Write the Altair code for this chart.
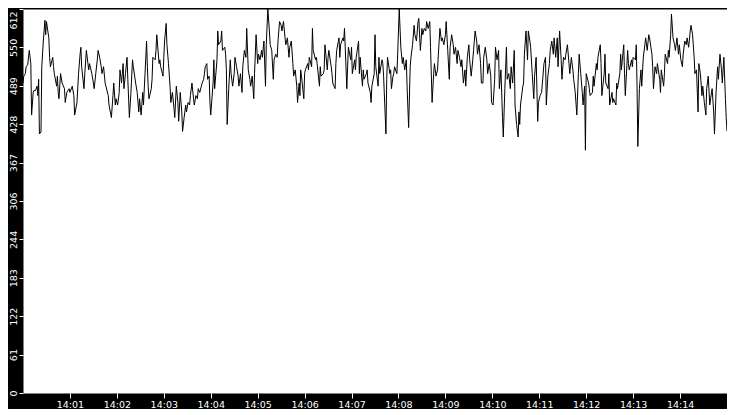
import altair as alt
import pandas as pd

# elapsed seconds since 14:00:00
t_sec = [
    0, 1, 3, 4, 6, 8, 10, 11, 13, 14, 16, 18, 19, 20, 21, 23, 24, 26, 28, 29, 30, 33, 34, 35, 38, 39, 40, 43, 44, 45,
    46, 48, 50, 53, 54, 56, 59, 60, 63, 65, 66, 69, 71, 73, 74, 75, 78, 79, 81, 83, 84, 85, 88, 90, 91, 93, 95, 96, 98, 100,
    101, 103, 105, 106, 109, 110, 113,
    115, 116, 118, 119, 121, 123, 124, 126, 128, 129, 131, 133, 134, 136, 138, 140, 141, 144, 146, 148, 149, 151, 153, 154,
    156, 158, 159, 160, 161, 164, 165, 166, 169, 170, 171, 174, 175, 176, 179, 180, 181, 183, 184, 186, 188, 189, 191, 193,
    194, 196, 198, 199, 201, 203, 204, 206, 208, 209, 211, 213, 214, 216, 218, 219, 221, 223, 224, 226, 228, 229, 231,
    233, 235, 236, 238, 239, 240, 243, 244, 245, 248, 249, 250, 253, 254, 255, 258, 259, 260, 261, 263, 265, 266, 268, 270,
    271, 273, 275, 276, 278, 280, 281, 283, 285, 286, 288, 290, 291, 293, 295, 296, 298, 300, 301, 303, 305, 306, 308, 310,
    311, 313, 315, 316, 318, 320, 321, 323, 325, 326, 328, 330, 331, 333, 335, 336, 338, 340, 341, 343, 345, 346, 348, 350,
    351, 353, 354, 355, 356, 359, 360, 361, 364, 365, 366, 369, 370, 371, 374, 375, 376, 379, 380, 381, 384, 385, 386, 389,
    390, 391, 394, 395, 396, 399, 400, 401, 404, 405, 406, 409, 410, 411, 414, 415, 416, 419, 420, 421, 424, 425, 426, 429,
    430, 431, 434, 435, 436, 439, 440, 441, 444, 445, 446, 449, 450, 451, 454, 455, 456, 459, 460, 461, 464, 465, 466, 469,
    470, 471, 473, 474, 475, 478, 479, 480, 481, 483, 485, 486, 488, 490, 491, 493, 495, 496, 498, 500, 501, 503, 505, 506,
    508, 510, 511, 513, 515, 516, 518, 520, 521, 523, 525, 526, 528, 530, 531, 533, 535, 536, 538, 540, 541, 543, 545, 546,
    548, 550, 551, 553, 555, 556, 558, 560, 561, 563, 565, 566, 568, 570, 571, 573, 575, 576, 578, 580, 581, 583, 585, 586,
    588, 589, 591, 593, 594, 596, 598, 599, 601, 603, 604, 606, 608, 609, 611, 613, 614, 616, 618, 619, 621, 623, 624, 626,
    628, 629, 631, 633, 634, 635, 636, 639, 640, 641, 643, 645, 646, 648, 649, 651, 653, 654, 656, 658, 659, 661, 663, 664,
    666, 668, 669, 671, 673, 674, 676, 678, 679, 681, 683, 684, 686, 688, 689, 691, 693, 694, 696, 698, 699, 701, 703, 704,
    706, 708, 710, 711, 713, 715, 716, 718, 719, 720, 723, 724, 725, 728, 729, 730, 733, 734, 735, 738, 739, 740, 743, 744,
    745, 748, 749, 750, 753, 754, 755, 758, 759, 760, 763, 764, 765, 768, 769, 770, 773, 774, 775, 778, 779, 780, 783, 784,
    785, 786, 788, 790, 791, 793, 795, 796, 798, 800,
    801, 804, 805, 806, 808, 810, 811, 814, 815, 816, 819, 820, 821, 824, 825, 826, 828, 829, 831, 833, 834, 836, 838, 839,
    841, 843, 844, 846, 848, 849, 851, 853, 854, 856, 858, 859, 861, 863, 864, 866, 868, 869, 871, 873, 874, 876, 878, 879,
    881, 883, 884, 886, 888, 889, 891, 893, 894, 896, 898, 899, 900,
]

values = [
    494, 505, 509, 520, 523, 546, 525, 443, 479, 482, 482, 489, 474, 500, 413, 416, 520, 561, 594, 571, 592, 566, 535, 520, 535, 520, 509, 489, 505, 479,
    469, 509, 494, 485, 463, 479, 485, 479, 489, 474, 443, 463, 509, 540, 551, 520, 485, 509, 546, 525, 515, 525, 509, 494, 485, 509, 531, 546, 535, 520,
    509, 520, 494, 489, 474, 459, 439,
    474, 494, 459, 469, 459, 479, 515, 494, 525, 485, 509, 535, 500, 439, 479, 531, 520, 494, 479, 448, 469, 443, 479, 459,
    509, 561, 520, 489, 469, 485, 500, 535, 531, 546, 571, 525, 531, 520, 505, 535, 561, 589, 555, 525, 489, 463, 479, 454,
    439, 489, 463, 433, 479, 448, 417, 439, 459, 448, 463, 459, 474, 494, 469, 459, 474, 469, 485, 479, 489, 494, 500,
    520, 525, 500, 505, 463, 443, 494, 531, 485, 531, 577, 555, 561, 577, 546, 551, 540, 515, 428, 485, 531, 509, 489, 509,
    535, 520, 505, 489, 509, 479, 520, 546, 535, 581, 515, 500, 489, 505, 469, 509, 571, 525, 540, 531, 546, 535, 561, 489,
    555, 612, 577, 555, 546, 500, 531, 540, 535, 561, 592, 586, 577, 592, 566, 555, 566, 535, 551, 561, 525, 505, 515, 489,
    463, 494, 474, 515, 505, 469, 509, 515, 525, 515, 535, 520, 581, 546, 531, 535, 525, 489, 520, 505, 509, 515, 555, 515,
    535, 546, 520, 509, 494, 485, 525, 546, 566, 535, 555, 566, 561, 581, 485, 520, 551, 531, 551, 509, 531, 515, 535, 561,
    509, 535, 489, 515, 500, 509, 515, 494, 479, 463, 489, 509, 571, 520, 489, 535, 509, 531, 525, 505, 413, 500, 535, 509,
    515, 485, 505, 509, 520, 509, 540, 577, 612, 551, 525, 535, 515, 531, 489, 423, 520, 535, 555, 586, 571, 561, 592, 597,
    546, 581, 571, 581, 577, 592, 581, 592, 551, 463, 509, 525, 505, 515, 540, 581, 561, 566, 555, 571, 592, 546, 500, 551,
    571, 555, 540, 551, 525, 546, 535, 520, 531, 494, 515, 489, 535, 555, 531, 505, 531, 546, 577, 561, 540, 555, 525, 494,
    494, 535, 551, 531, 509, 525, 505, 463, 459, 500, 551, 531, 546, 485, 515, 439, 408, 485, 551, 500, 509, 485, 520, 494,
    546, 459, 428, 408, 448, 428, 459, 489, 494, 540, 577, 531, 577, 561, 551, 509, 469, 505, 535, 433, 463, 474, 479, 494,
    525, 535, 459, 505, 525, 546, 561, 540, 566, 535, 566, 520, 577, 531, 500, 535, 531, 540, 555, 525, 509, 535, 515, 500,
    479, 443, 509, 540, 509, 479, 459, 489, 387, 509, 494, 485, 474, 479, 505, 489, 525, 515, 535, 555, 525, 474, 509, 540,
    494, 485, 509, 459, 479, 463, 469, 459, 494, 485, 509, 540, 515, 555, 509, 474, 546, 525, 515, 531, 520, 535, 531, 555,
    489, 393, 485, 515, 489, 535, 555, 566, 546, 571,
    566, 540, 520, 485, 520, 509, 525, 500, 479, 515, 489, 509, 540, 525, 546, 535, 571, 604, 566, 555, 546, 566, 540, 555,
    531, 520, 540, 561, 555, 566, 551, 577, 586, 571, 535, 509, 515, 448, 525, 509, 474, 489, 463, 443, 485, 505, 459, 469,
    485, 448, 413, 479, 520, 500, 540, 515, 494, 535, 469, 439, 417,
]

y_ticks = [0, 61.2, 122.4, 183.6, 244.8, 306, 367.2, 428.4, 489.6, 550.8, 612]
x_tick_minutes = [1, 2, 3, 4, 5, 6, 7, 8, 9, 10, 11, 12, 13, 14]

base = pd.Timestamp("2024-01-01 14:00:00")
df = pd.DataFrame({
    "time": [base + pd.Timedelta(seconds=s) for s in t_sec],
    "value": values,
})

x_domain = [
    alt.DateTime(year=2024, month=1, date=1, hours=14, minutes=0),
    alt.DateTime(year=2024, month=1, date=1, hours=14, minutes=15),
]
x_values = [alt.DateTime(year=2024, month=1, date=1, hours=14, minutes=m) for m in x_tick_minutes]

chart = (
    alt.Chart(df)
    .mark_line(color="black", strokeWidth=1, clip=True)
    .encode(
        x=alt.X(
            "time:T",
            scale=alt.Scale(domain=x_domain, nice=False),
            axis=alt.Axis(
                title=None,
                values=x_values,
                format="%H:%M",
                grid=False,
                domain=False,
                tickColor="white",
                tickSize=5,
                labelColor="white",
                labelFont="DejaVu Sans",
                labelFontSize=9.5,
                labelPadding=1,
                labelFlush=False,
                labelOverlap=False,
                minExtent=15,
                maxExtent=15,
            ),
        ),
        y=alt.Y(
            "value:Q",
            scale=alt.Scale(domain=[0, 612], nice=False, zero=True),
            axis=alt.Axis(
                title=None,
                values=y_ticks,
                labelExpr="floor(datum.value)",
                grid=False,
                domain=False,
                tickColor="white",
                tickSize=4,
                labelColor="white",
                labelFont="DejaVu Sans",
                labelFontSize=9.5,
                labelAngle=270,
                labelAlign="center",
                labelBaseline="bottom",
                labelPadding=1,
                labelFlush=False,
                labelOverlap=False,
                labelOffset={"condition": {"test": "datum.value >= 612", "value": 11}, "value": 0},
                minExtent=15,
                maxExtent=15,
            ),
        ),
    )
    .properties(width=704, height=384, background="black", padding=0)
    .configure_view(fill="white", strokeOpacity=0)
)

chart.save("out.html", embed_options={"renderer": "svg", "actions": False})
